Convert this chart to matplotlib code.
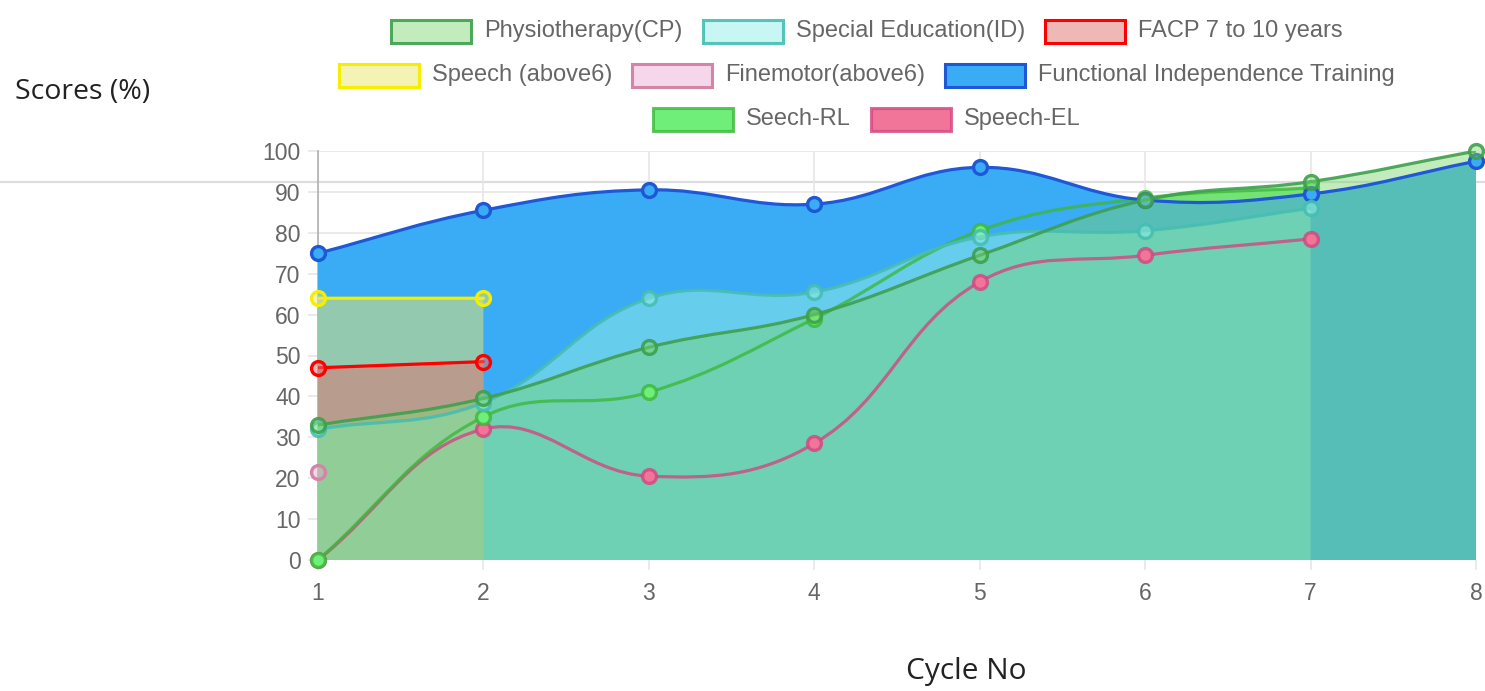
import numpy as np
import matplotlib
matplotlib.use("Agg")
import matplotlib.pyplot as plt
from matplotlib.path import Path
from matplotlib.patches import PathPatch, Rectangle
from matplotlib.lines import Line2D
from matplotlib.transforms import Affine2D

# ---- data ----
cycles = [1, 2, 3, 4, 5, 6, 7, 8]
y_ticks = [0, 10, 20, 30, 40, 50, 60, 70, 80, 90, 100]

physio = [33, 39.5, 52, 60, 74.5, 88, 92.5, 100]
special_ed = [32, 38.5, 64, 65.5, 79, 80.5, 86]
facp = [47, 48.5]
speech_above6 = [64, 64]
finemotor = [21.5]
fit = [75, 85.5, 90.5, 87, 96, 88, 89.5, 97.5]
seech_rl = [0, 35, 41, 59, 80.5, 88.5, 91]
speech_el = [0, 32, 20.5, 28.5, 68, 74.5, 78.5]

labels = ["Physiotherapy(CP)", "Special Education(ID)", "FACP 7 to 10 years",
          "Speech (above6)", "Finemotor(above6)", "Functional Independence Training",
          "Seech-RL", "Speech-EL"]
series = [physio, special_ed, facp, speech_above6, finemotor, fit, seech_rl, speech_el]

def rgba(r, g, b, a=1.0):
    return (r / 255, g / 255, b / 255, a)

borders = [rgba(62, 160, 78, 0.9), rgba(70, 190, 178, 0.9), rgba(255, 0, 0),
           rgba(245, 238, 0), rgba(212, 132, 165), rgba(30, 88, 215),
           rgba(60, 184, 60, 0.8), rgba(210, 70, 130, 0.8)]
fills = [rgba(122, 215, 109, 0.45), rgba(146, 239, 231, 0.5), rgba(222, 115, 110, 0.5),
         rgba(234, 231, 107, 0.5), rgba(235, 165, 212, 0.45), rgba(58, 171, 245),
         rgba(112, 238, 122), rgba(240, 117, 152)]

W, H = 1485, 691
fig = plt.figure(figsize=(W / 100, H / 100), dpi=100)
ax = fig.add_axes([318 / W, 1 - 560 / H, (1476 - 318) / W, (560 - 151) / H])
ax.set_xlim(1, 8)
ax.set_ylim(0, 100)
ax.patch.set_facecolor("none")

# stray page rule behind the canvas
fig.add_artist(Line2D([0, 1], [1 - 182 / H] * 2, transform=fig.transFigure,
                      color="#dddddd", lw=1.6, zorder=-5))


def smooth(xs, ys, t=0.4):
    # chart.js style bezier, computed in pixel space
    pts = ax.transData.transform(np.column_stack([xs, ys]).astype(float))
    lo = ax.transData.transform((1, 0))
    hi = ax.transData.transform((8, 100))
    n = len(pts)
    cp_in, cp_out = [], []
    for i in range(n):
        p, c, nx = pts[max(i - 1, 0)], pts[i], pts[min(i + 1, n - 1)]
        d01 = np.hypot(*(c - p))
        d12 = np.hypot(*(nx - c))
        tot = d01 + d12
        s01 = d01 / tot if tot else 0
        s12 = d12 / tot if tot else 0
        cp_in.append(np.clip(c - t * s01 * (nx - p), lo, hi))
        cp_out.append(np.clip(c + t * s12 * (nx - p), lo, hi))
    verts = [pts[0]]
    codes = [Path.MOVETO]
    for i in range(n - 1):
        verts += [cp_out[i], cp_in[i + 1], pts[i + 1]]
        codes += [Path.CURVE4] * 3
    verts = ax.transData.inverted().transform(np.array(verts))
    return list(map(tuple, verts)), codes


# fills first (last dataset at the bottom), then lines and points
for k in range(len(series) - 1, -1, -1):
    vals = series[k]
    xs = cycles[:len(vals)]
    if len(vals) < 2:
        continue
    v, c = smooth(xs, vals)
    v = v + [(xs[-1], 0), (xs[0], 0), (xs[0], 0)]
    c = c + [Path.LINETO, Path.LINETO, Path.CLOSEPOLY]
    ax.add_patch(PathPatch(Path(v, c), facecolor=fills[k], edgecolor="none",
                           zorder=2 + (len(series) - k) * 0.1))

for k in range(len(series) - 1, -1, -1):
    vals = series[k]
    xs = cycles[:len(vals)]
    z = 5 + (len(series) - k) * 0.2
    if len(vals) >= 2:
        v, c = smooth(xs, vals)
        ax.add_patch(PathPatch(Path(v, c), facecolor="none", edgecolor=borders[k],
                               lw=2.3, capstyle="round", joinstyle="round", zorder=z))
    ax.plot(xs, vals, "o", ms=10, mfc=fills[k], mec=borders[k], mew=2.4,
            linestyle="none", clip_on=False, zorder=z + 0.1)

# axes styling
ax.set_xticks(cycles)
ax.set_yticks(y_ticks)
ax.grid(True, color="#e6e6e6", lw=1.2, zorder=0)
ax.set_axisbelow(True)
for s in ["top", "right", "bottom"]:
    ax.spines[s].set_visible(False)
ax.spines["left"].set_color("#b0b0b0")
ax.spines["left"].set_linewidth(1.2)
ax.spines["left"].set_zorder(1)
ax.tick_params(axis="both", colors="#e6e6e6", width=1.2, length=7.5,
               labelcolor="#666666", labelsize=16.5)
ax.tick_params(axis="x", pad=8)
ax.tick_params(axis="y", pad=5)
for lab in ax.get_xticklabels() + ax.get_yticklabels():
    lab.set_fontfamily("Liberation Sans")

fig.text(15 / W, 1 - 92 / H, "Scores (%)", fontsize=20.5, family="Open Sans",
         color="#222222", ha="left", va="center")
fig.text(966 / W, 1 - 672 / H, "Cycle No", fontsize=21.5, family="Open Sans",
         color="#222222", ha="center", va="center")

# legend laid out like the chart.js one, rows centred on the canvas
px = Affine2D().scale(1 / W, 1 / H) + fig.transFigure
rows = [[0, 1, 2], [3, 4, 5], [6, 7]]
row_y = [31, 75, 119]
box_w, box_h, gap_txt, gap_item = 80, 23, 13, 20
centre = 867
renderer = fig.canvas.get_renderer()
for r, idxs in enumerate(rows):
    texts = []
    for k in idxs:
        t = fig.text(0, 1 - row_y[r] / H, labels[k], fontsize=17, family="Liberation Sans",
                     color="#666666", ha="left", va="center")
        texts.append(t)
    widths = [t.get_window_extent(renderer).width for t in texts]
    total = sum(box_w + gap_txt + w for w in widths) + gap_item * (len(idxs) - 1)
    x = centre - total / 2
    for k, t, w in zip(idxs, texts, widths):
        y = H - row_y[r]
        fig.add_artist(Rectangle((x, y - box_h / 2), box_w, box_h, transform=px,
                                 facecolor=fills[k], edgecolor=borders[k], lw=2.2))
        t.set_x((x + box_w + gap_txt) / W)
        x += box_w + gap_txt + w + gap_item

fig.savefig("out.png", dpi=100)
